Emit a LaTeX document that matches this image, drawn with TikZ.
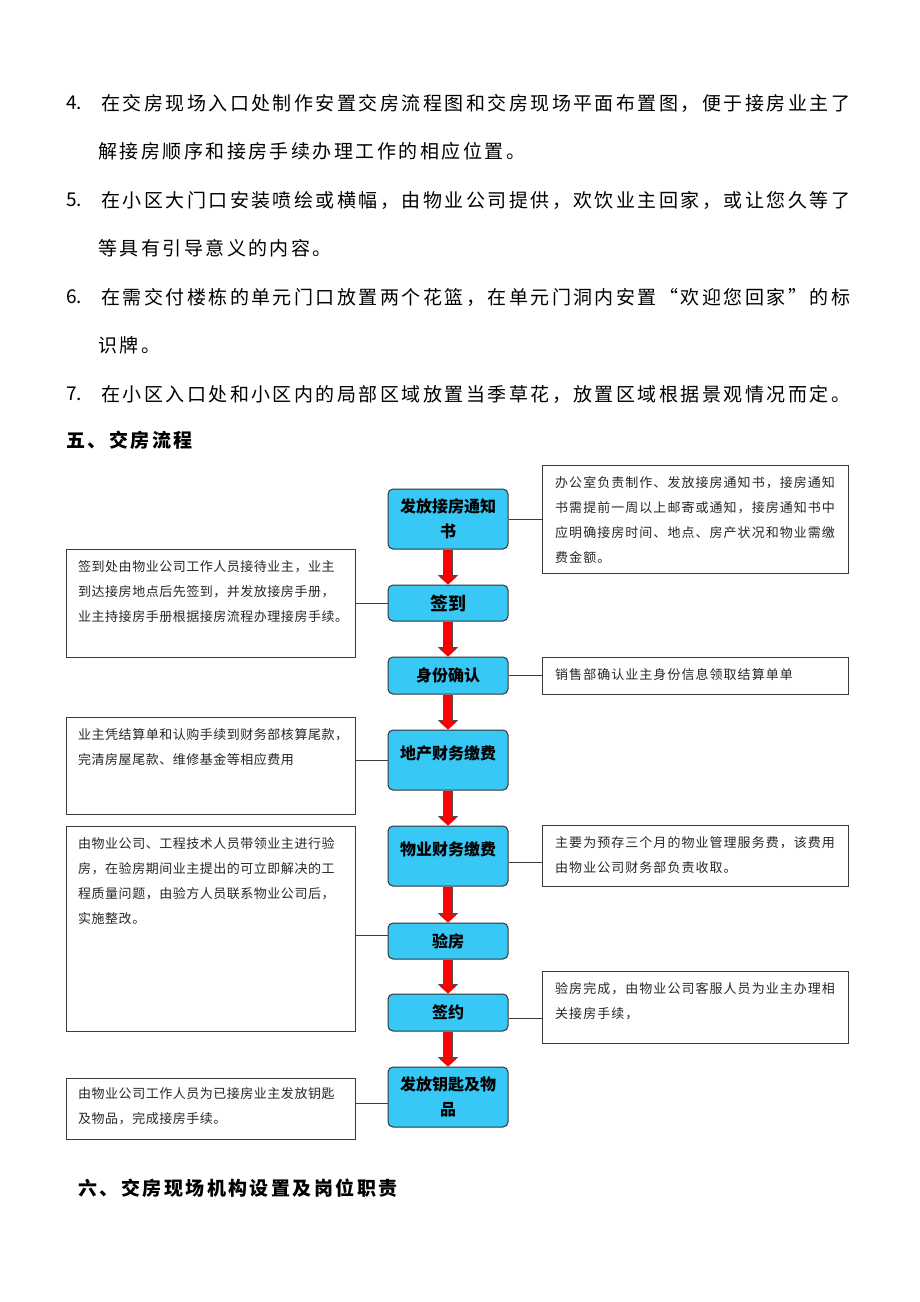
\documentclass[tikz,border=0pt]{standalone}
\usepackage{fontspec}
\usepackage{tikz}
\usetikzlibrary{arrows.meta}
\setmainfont{Noto Sans CJK SC}
\newfontfamily\cjkbody[LetterSpace=13]{Noto Sans CJK SC}
\newfontfamily\cjknoteleft[LetterSpace=4]{Noto Sans CJK SC}
\newfontfamily\cjknoteright[LetterSpace=8]{Noto Sans CJK SC}
\newfontfamily\cjkstep{Noto Sans CJK SC}
\definecolor{stepblue}{RGB}{56, 200, 245}
\definecolor{notegray}{RGB}{60, 60, 60}
\tikzset{
  bodytext/.style={anchor=west, inner sep=0pt, font=\cjkbody\fontsize{19}{24}\selectfont},
  numtext/.style={bodytext, font=\cjkstep\fontsize{19}{24}\selectfont},
  headtext/.style={bodytext, font=\cjkbody\bfseries\fontsize{19}{24}\selectfont},
  stepbox/.style={draw=black!80, line width=1pt, fill=stepblue, rounded corners=5pt,
    minimum width=120pt, inner sep=2pt, align=center,
    font=\cjkstep\bfseries\fontsize{16}{25}\selectfont},
  toplabel/.style={text depth=14pt},
  notebox/.style={draw=notegray, line width=1.1pt, anchor=north west, inner sep=0pt},
  notetext/.style={anchor=north west, align=left, inner sep=0pt, text=black!85,
    font=\cjknoteleft\fontsize{13}{25}\selectfont},
  rightnote/.style={notetext, font=\cjknoteright\fontsize{13}{25}\selectfont},
  link/.style={draw=notegray, line width=1pt},
  flowarrow/.style={draw=red, line width=8pt, -{Triangle[width=17pt,length=8pt]},
    preaction={draw=black!70, line width=10pt, -{Triangle[width=20pt,length=9.5pt]}}}
}
\begin{document}
\begin{tikzpicture}[x=1pt,y=-1pt]
\useasboundingbox (0,0) rectangle (920,1302);

\node[numtext] (numFour) at (66,103) {4.};
\node[bodytext] (itemFourA) at (101,103) {在交房现场入口处制作安置交房流程图和交房现场平面布置图，便于接房业主了};
\node[bodytext] (itemFourB) at (98,151) {解接房顺序和接房手续办理工作的相应位置。};
\node[numtext] (numFive) at (66,200) {5.};
\node[bodytext] (itemFiveA) at (101,200) {在小区大门口安装喷绘或横幅，由物业公司提供，欢饮业主回家，或让您久等了};
\node[bodytext] (itemFiveB) at (98,248) {等具有引导意义的内容。};
\node[numtext] (numSix) at (66,297) {6.};
\node[bodytext] (itemSixA) at (101,297) {在需交付楼栋的单元门口放置两个花篮，在单元门洞内安置“欢迎您回家”的标};
\node[bodytext] (itemSixB) at (98,345) {识牌。};
\node[numtext] (numSeven) at (66,394) {7.};
\node[bodytext] (itemSeven) at (101,394) {在小区入口处和小区内的局部区域放置当季草花，放置区域根据景观情况而定。};
\node[headtext] (headFive) at (66,440) {五、交房流程};
\node[headtext] (headSix) at (78,1188) {六、交房现场机构设置及岗位职责};

\node[stepbox, minimum height=60pt] (tzs) at (448,519) {发放接房通知\\书};
\node[stepbox, minimum height=36pt, font=\cjkstep\bfseries\fontsize{18}{25}\selectfont] (qd) at (448,603) {签到};
\node[stepbox, minimum height=37pt] (sfqr) at (448,675.5) {身份确认};
\node[stepbox, toplabel, minimum height=60pt] (dccw) at (448,760) {地产财务缴费};
\node[stepbox, toplabel, minimum height=60pt] (wycw) at (448,856) {物业财务缴费};
\node[stepbox, minimum height=36pt] (yf) at (448,941) {验房};
\node[stepbox, minimum height=37pt] (qy) at (448,1012.5) {签约};
\node[stepbox, minimum height=60pt] (ysfp) at (448,1097) {发放钥匙及物\\品};

\foreach \from/\to in {tzs/qd, qd/sfqr, sfqr/dccw, dccw/wycw, wycw/yf, yf/qy, qy/ysfp}
  \draw[flowarrow] (\from) -- (\to);

\node[notebox, minimum width=306pt, minimum height=108pt] (tzsNote) at (542,465) {};
\node[rightnote] at ([shift={(13,11)}]tzsNote.north west) {办公室负责制作、发放接房通知书，接房通知\\书需提前一周以上邮寄或通知，接房通知书中\\应明确接房时间、地点、房产状况和物业需缴\\费金额。};
\node[notebox, minimum width=289pt, minimum height=108pt] (qdNote) at (66,549) {};
\node[notetext] at ([shift={(12,11)}]qdNote.north west) {签到处由物业公司工作人员接待业主，业主\\到达接房地点后先签到，并发放接房手册，\\业主持接房手册根据接房流程办理接房手续。};
\node[notebox, minimum width=306pt, minimum height=37pt] (sfqrNote) at (542,657) {};
\node[rightnote] at ([shift={(13,11)}]sfqrNote.north west) {销售部确认业主身份信息领取结算单单};
\node[notebox, minimum width=289pt, minimum height=97pt] (dccwNote) at (66,717) {};
\node[notetext] at ([shift={(12,11)}]dccwNote.north west) {业主凭结算单和认购手续到财务部核算尾款，\\完清房屋尾款、维修基金等相应费用};
\node[notebox, minimum width=306pt, minimum height=61pt] (wycwNote) at (542,825) {};
\node[rightnote] at ([shift={(13,11)}]wycwNote.north west) {主要为预存三个月的物业管理服务费，该费用\\由物业公司财务部负责收取。};
\node[notebox, minimum width=289pt, minimum height=205pt] (yfNote) at (66,826) {};
\node[notetext] at ([shift={(12,11)}]yfNote.north west) {由物业公司、工程技术人员带领业主进行验\\房，在验房期间业主提出的可立即解决的工\\程质量问题，由验方人员联系物业公司后，\\实施整改。};
\node[notebox, minimum width=306pt, minimum height=72pt] (qyNote) at (542,971) {};
\node[rightnote] at ([shift={(13,11)}]qyNote.north west) {验房完成，由物业公司客服人员为业主办理相\\关接房手续，};
\node[notebox, minimum width=289pt, minimum height=61pt] (ysfpNote) at (66,1078) {};
\node[notetext] at ([shift={(12,9)}]ysfpNote.north west) {由物业公司工作人员为已接房业主发放钥匙\\及物品，完成接房手续。};

\draw[link] (tzs.east) -- (tzs.east -| tzsNote.west);
\draw[link] (qd.west) -- (qd.west -| qdNote.east);
\draw[link] (sfqr.east) -- (sfqr.east -| sfqrNote.west);
\draw[link] (dccw.west) -- (dccw.west -| dccwNote.east);
\draw[link] ([yshift=-6]wycw.east) -- ([yshift=-6]wycw.east -| wycwNote.west);
\draw[link] ([yshift=6]yf.west) -- ([yshift=6]yf.west -| yfNote.east);
\draw[link] ([yshift=-6]qy.east) -- ([yshift=-6]qy.east -| qyNote.west);
\draw[link] ([yshift=-6]ysfp.west) -- ([yshift=-6]ysfp.west -| ysfpNote.east);

\end{tikzpicture}
\end{document}
